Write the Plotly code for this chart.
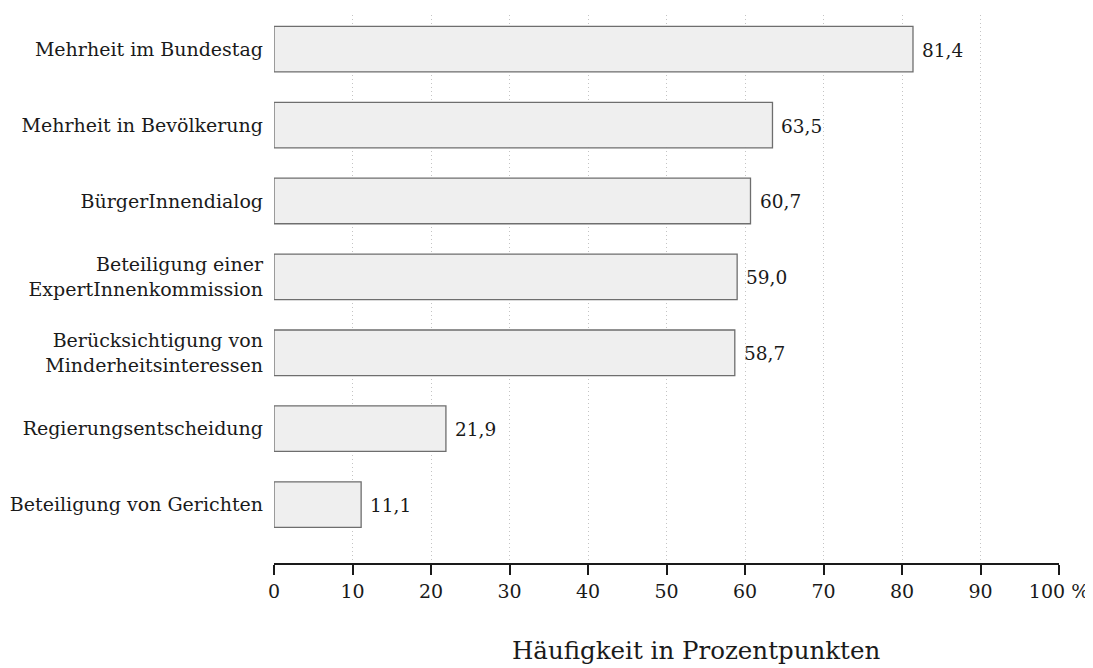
import plotly.graph_objects as go

categories = [
    "Mehrheit im Bundestag",
    "Mehrheit in Bevölkerung",
    "BürgerInnendialog",
    "Beteiligung einer<br>ExpertInnenkommission",
    "Berücksichtigung von<br>Minderheitsinteressen",
    "Regierungsentscheidung",
    "Beteiligung von Gerichten",
]
values = [81.4, 63.5, 60.7, 59.0, 58.7, 21.9, 11.1]
value_labels = ["81,4", "63,5", "60,7", "59,0", "58,7", "21,9", "11,1"]
tick_vals = [0, 10, 20, 30, 40, 50, 60, 70, 80, 90, 100]
tick_text = ["0", "10", "20", "30", "40", "50", "60", "70", "80", "90", "100 %"]
x_title = "Häufigkeit in Prozentpunkten"

FONT = "DejaVu Serif"
order = categories[::-1]

fig = go.Figure()
fig.add_trace(go.Bar(
    x=values,
    y=categories,
    orientation="h",
    width=0.6,
    marker=dict(color="#efefef", line=dict(color="#6e6e6e", width=1.3)),
    hoverinfo="skip",
))

for v, c, t in zip(values, categories, value_labels):
    fig.add_annotation(
        x=v, y=c, xref="x", yref="y", text=t, showarrow=False,
        xanchor="left", yanchor="middle", xshift=7, yshift=-1,
        font=dict(family=FONT, size=18.5, color="#1a1a1a"),
    )

fig.add_annotation(
    x=0.5376, y=0, xref="paper", yref="paper", yanchor="middle",
    yshift=-87, text=x_title, showarrow=False,
    font=dict(family=FONT, size=24.5, color="#1a1a1a"),
)

fig.update_layout(
    width=1085, height=660,
    margin=dict(l=266, r=34, t=7, b=105),
    paper_bgcolor="white", plot_bgcolor="white",
    showlegend=False,
    font=dict(family=FONT, size=19, color="#1a1a1a"),
    xaxis=dict(
        range=[0, 100], tickvals=tick_vals, ticktext=tick_text,
        showgrid=True, gridcolor="#c4c4c4", griddash="1px,3px", gridwidth=1,
        showline=True, linecolor="#1a1a1a", linewidth=1.5,
        ticks="outside", ticklen=10, tickcolor="#1a1a1a", tickwidth=1.5,
        zeroline=False, automargin=False,
        tickfont=dict(family=FONT, size=19, color="#1a1a1a"),
        fixedrange=True,
    ),
    yaxis=dict(
        categoryorder="array", categoryarray=order,
        range=[-0.77, 6.45],
        showgrid=False, zeroline=False, showline=False, ticks="",
        ticklabelstandoff=10, automargin=False,
        tickfont=dict(family=FONT, size=19, color="#1a1a1a"),
        fixedrange=True,
    ),
)

fig.write_html("out.html")
